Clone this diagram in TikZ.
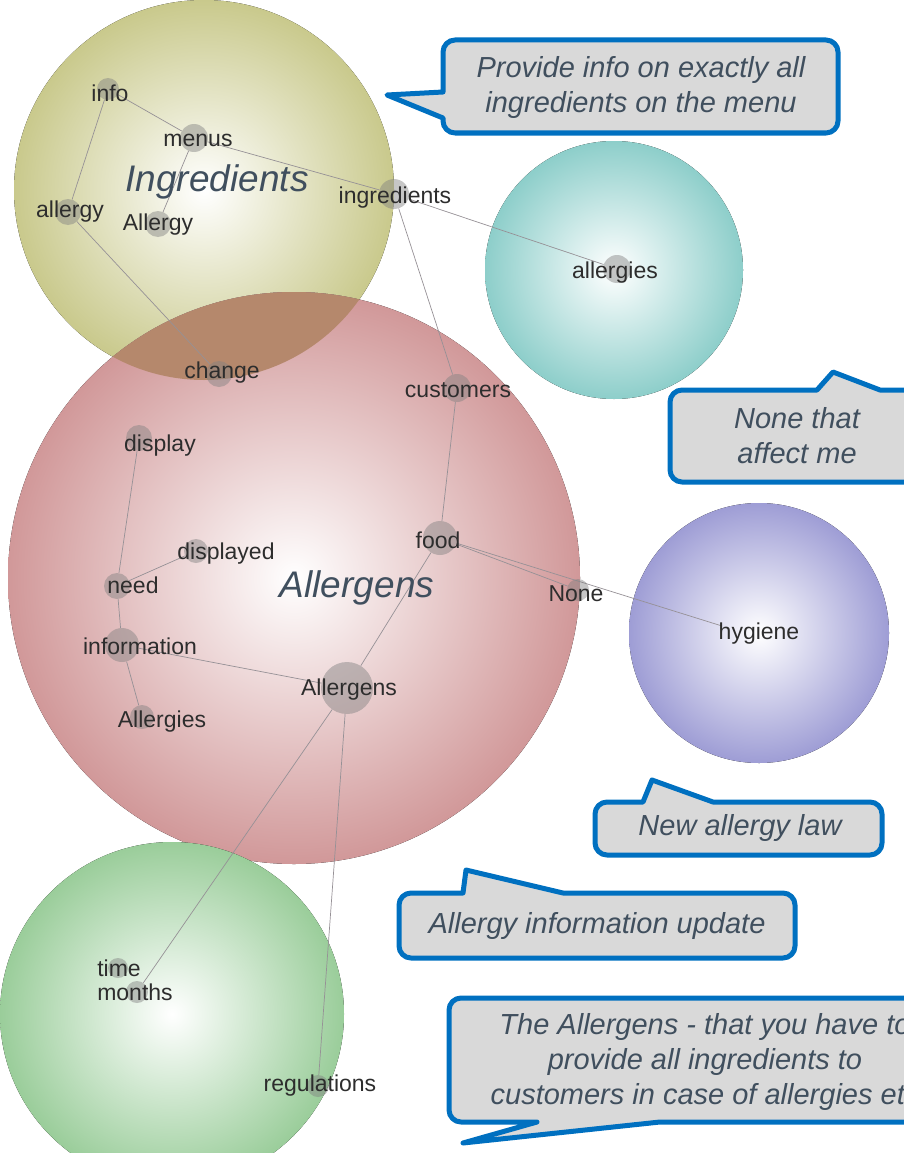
\documentclass[tikz,border=0pt]{standalone}
\usepackage{fontspec}
\setmainfont{Liberation Sans}
\usetikzlibrary{positioning}
\definecolor{IngrYellow}{RGB}{201,201,140}
\definecolor{AllerRed}{RGB}{209,152,153}
\definecolor{OverlapBrown}{RGB}{181,136,108}
\definecolor{TealBall}{RGB}{141,206,202}
\definecolor{VioletBall}{RGB}{158,157,213}
\definecolor{GreenBall}{RGB}{154,205,154}
\definecolor{CalloutBlue}{RGB}{0,112,192}
\definecolor{CalloutGray}{RGB}{217,217,217}
\definecolor{SlateText}{RGB}{64,79,94}
\definecolor{WordGray}{RGB}{45,45,45}
\definecolor{LinkGray}{RGB}{150,145,150}
\pgfdeclarelayer{bg}
\pgfsetlayers{bg,main}

\begin{document}
\begin{tikzpicture}[x=1pt,y=-1pt,
  ball/.style={shading=radial,inner color=white,outer color=#1},
  dot/.style={circle,fill=gray,fill opacity=0.45,inner sep=0pt,minimum size=#1},
  word/.style={text=WordGray,font=\fontsize{23}{23}\selectfont,inner sep=0pt},
  theme/.style={text=SlateText,font=\fontsize{37}{37}\selectfont\itshape},
  link/.style={draw=LinkGray,line width=0.7pt},
  callout/.style={draw=CalloutBlue,line width=5pt,fill=CalloutGray,line join=round},
  note/.style={text=SlateText,align=center,font=\fontsize{29}{35}\selectfont\itshape}]
  \useasboundingbox (0,0) rectangle (904,1153);
  \clip (0,0) rectangle (904,1153);

  % theme balls
  \begin{pgfonlayer}{bg}
    \fill[ball=IngrYellow] (204,190) circle (190);
    \fill[ball=AllerRed] (294,578) circle (286);
    \begin{scope}
      \clip (204,190) circle (190);
      \fill[OverlapBrown] (294,578) circle (286);
    \end{scope}
    \fill[ball=TealBall] (614,270) circle (129);
    \fill[ball=VioletBall] (759,633) circle (130);
    \fill[ball=GreenBall] (172,1014) circle (172);
  \end{pgfonlayer}

  % words
  \foreach \n/\x/\y/\s/\tx/\ty/\t in {
      info/108/89/22/110/93/info, menus/194/138/28/198/140/menus,
      ingr/394/194/30/395/198/ingredients, allergy/68/212/26/70/212/allergy,
      Allergy/158/224/26/158/225/Allergy, change/219/374/26/222/373/change,
      allergies/617/269/28/615/273/allergies, customers/457/388/28/458/390/customers,
      display/139/438/26/160/446/display, displayed/196/551/24/226/554/displayed,
      need/117/586/26/133/585/need, information/122/645/34/140/646/information,
      Allergies/142/717/24/162/722/Allergies, Allergens/347/688/52/349/690/Allergens,
      food/440/538/34/438/540/food, None/578/590/22/576/594/None,
      hygiene/722/626/0/759/634/hygiene, time/118/968/20/119/968/time,
      months/137/992/22/135/992/months, regul/318/1086/22/320/1086/regulations}
  {
    \node[dot=\s] (\n) at (\x,\y) {};
    \node[word] (\n-w) at (\tx,\ty) {\t};
  }

  \begin{pgfonlayer}{bg}
    \foreach \a/\b in {info/menus, menus/ingr, info/allergy, menus/Allergy,
        allergy/change, ingr/allergies, ingr/customers, customers/food,
        food/None, food/hygiene, food/Allergens, display/need, need/displayed,
        need/information, information/Allergies, information/Allergens,
        Allergens/months, Allergens/regul}
      \draw[link] (\a) -- (\b);
  \end{pgfonlayer}

  \node[theme] (ingr-title) at (217,182) {Ingredients};
  \node[theme] (aller-title) at (357,588) {Allergens};

  % callouts
  \draw[callout] (443,118) -- (387,95) -- (443,92) [rounded corners=12pt]
    -- (443,40) -- (838,40) -- (838,133) -- (443,133) [sharp corners] -- cycle;
  \node[note] (note-menu) at (641,88) {Provide info on exactly all\\ingredients on the menu};

  \draw[callout] (817,390) -- (833,372) -- (880,390) [rounded corners=12pt]
    -- (935,390) -- (935,482) -- (670,482) -- (670,390) [sharp corners] -- cycle;
  \node[note] (note-none) at (797,436) {None that\\affect me};

  \draw[callout] (643,802) -- (652,780) -- (713,802) [rounded corners=12pt]
    -- (882,802) -- (882,855) -- (595,855) -- (595,802) [sharp corners] -- cycle;
  \node[note] (note-law) at (740,828) {New allergy law};

  \draw[callout] (463,893) -- (466,870) -- (563,893) [rounded corners=12pt]
    -- (795,893) -- (795,958) -- (399,958) -- (399,893) [sharp corners] -- cycle;
  \node[note] (note-update) at (597,926) {Allergy information update};

  \draw[callout] (660,1122) -- (463,1143) -- (537,1122) [rounded corners=12pt]
    -- (449,1122) -- (449,998) -- (965,998) -- (965,1122) [sharp corners] -- cycle;
  \node[note] (note-case) at (705,1062) {The Allergens - that you have to\\provide all ingredients to\\customers in case of allergies etc};
\end{tikzpicture}
\end{document}
